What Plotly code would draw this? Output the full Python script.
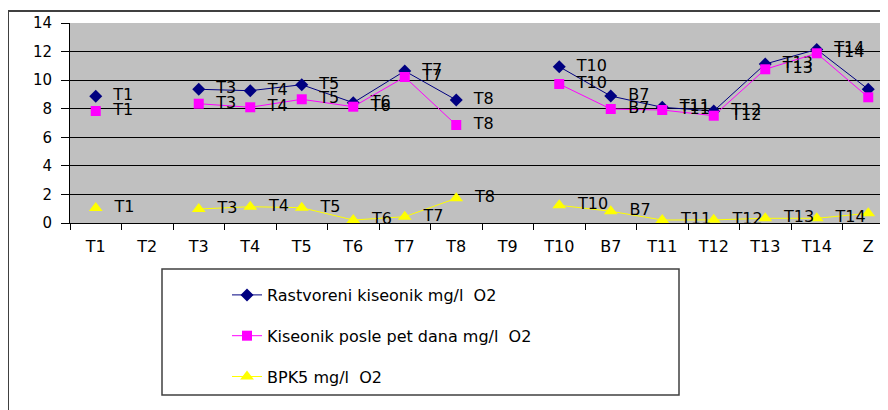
import plotly.graph_objects as go

categories = ["T1", "T2", "T3", "T4", "T5", "T6", "T7", "T8", "T9",
              "T10", "B7", "T11", "T12", "T13", "T14", "Z"]
rastvoreni = [8.87, None, 9.36, 9.26, 9.68, 8.42, 10.64, 8.61, None,
              10.94, 8.89, 8.10, 7.84, 11.13, 12.15, 9.36]
posle_pet = [7.84, None, 8.35, 8.10, 8.66, 8.14, 10.22, 6.86, None,
             9.73, 7.98, 7.91, 7.51, 10.76, 11.88, 8.80]
bpk5 = [1.05, None, 0.98, 1.14, 1.07, 0.21, 0.44, 1.73, None,
        1.24, 0.82, 0.21, 0.22, 0.33, 0.33, 0.68]
series_names = ["Rastvoreni kiseonik mg/l  O2",
                "Kiseonik posle pet dana mg/l  O2",
                "BPK5 mg/l  O2"]
y_ticks = [0, 2, 4, 6, 8, 10, 12, 14]

FONT = "'DejaVu Sans', Arial, sans-serif"
OFF = 8  # page body margin of the html page
W, H = 888 - OFF, 410 - OFF
L = 70 - OFF
T = 23 - OFF
B = H - (223 - OFF)
R = 0
PW, PH = W - L - R, H - T - B


def px_x(px):
    return (px - OFF - L) / PW


def px_y(py):
    return (H - B - (py - OFF)) / PH


labels = [("  " + c) for c in categories]

fig = go.Figure()
styles = [
    dict(color="#000080", symbol="diamond", size=10),
    dict(color="#FF00FF", symbol="square", size=10),
    dict(color="#FFFF00", symbol="triangle-up", size=12),
]
for i, (name, vals, st) in enumerate(zip(series_names, [rastvoreni, posle_pet, bpk5], styles)):
    fig.add_trace(go.Scatter(
        x=categories, y=vals, name=name, mode="lines+markers+text",
        legendgroup=f"g{i}",
        text=[l if v is not None else "" for l, v in zip(labels, vals)],
        textposition="middle right",
        textfont=dict(family=FONT, size=16, color="black"),
        line=dict(color=st["color"], width=1),
        marker=dict(color=st["color"], symbol=st["symbol"], size=st["size"],
                    line=dict(width=0)),
        connectgaps=False, cliponaxis=False,
    ))

shapes = [
    # outer chart frame
    dict(type="line", xref="paper", yref="paper",
         x0=px_x(8), x1=px_x(900), y0=px_y(11), y1=px_y(11),
         line=dict(color="#404040", width=2)),
    dict(type="line", xref="paper", yref="paper",
         x0=px_x(8), x1=px_x(8), y0=px_y(11), y1=px_y(420),
         line=dict(color="#404040", width=2)),
    # legend box
    dict(type="rect", xref="paper", yref="paper",
         x0=px_x(162), x1=px_x(679), y0=px_y(269), y1=px_y(395),
         line=dict(color="#404040", width=1.5), fillcolor="white", layer="below"),
]

fig.update_layout(
    width=W, height=H,
    margin=dict(l=L, r=R, t=T, b=B, pad=0, autoexpand=False),
    paper_bgcolor="white",
    plot_bgcolor="#C0C0C0",
    font=dict(family=FONT, size=14, color="black"),
    shapes=shapes,
    showlegend=True,
    legend=dict(
        x=px_x(227), y=px_y(278), xanchor="left", yanchor="top",
        bgcolor="rgba(0,0,0,0)", borderwidth=0,
        font=dict(family=FONT, size=16, color="black"),
        tracegroupgap=17, traceorder="grouped",
        itemwidth=30,
    ),
    xaxis=dict(
        type="category", categoryorder="array", categoryarray=categories,
        range=[-0.5, -0.5 + PW / 51.5],
        showgrid=False, zeroline=False,
        showline=True, linecolor="black", linewidth=1,
        ticks="outside", tickson="boundaries", ticklen=6, tickcolor="black",
        tickfont=dict(family=FONT, size=16, color="black"),
        ticklabelstandoff=9,
        fixedrange=True,
    ),
    yaxis=dict(
        range=[0, 14], tickvals=y_ticks,
        showgrid=True, gridcolor="black", gridwidth=1,
        zeroline=False,
        showline=True, linecolor="black", linewidth=1,
        ticks="outside", ticklen=8, tickcolor="black",
        tickfont=dict(family=FONT, size=15, color="black"),
        ticklabelstandoff=6,
        fixedrange=True,
    ),
)

fig.write_html("out.html")
